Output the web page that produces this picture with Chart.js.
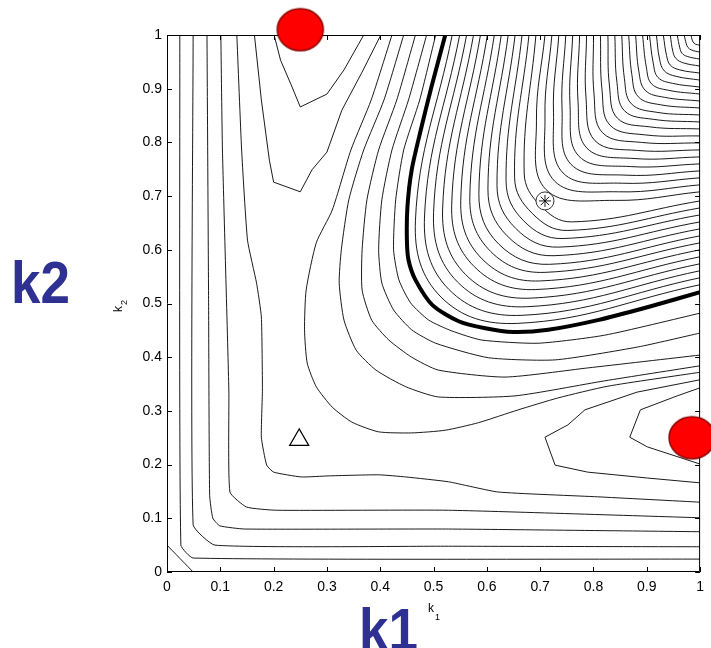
<!DOCTYPE html>
<html>
<head>
<meta charset="utf-8">
<script src="https://cdn.jsdelivr.net/npm/chart.js@4.4.0/dist/chart.umd.min.js"></script>
<style>
html, body { margin: 0; padding: 0; background: #fff; }
#wrap { width: 711px; height: 648px; }
</style>
</head>
<body>
<div id="wrap"><canvas id="contourChart" width="711" height="648"></canvas></div>
<script>
// axis ticks
const tickValues = [0, 0.1, 0.2, 0.3, 0.4, 0.5, 0.6, 0.7, 0.8, 0.9, 1];

// markers (k1, k2)
const redMarks = [[0.25, 1.01], [0.985, 0.25]];
const triangleMark = [0.248, 0.246];
const starMark = [0.709, 0.691];

// thick contour
const boldLine = [[0.522,1.0],[0.496,0.903],[0.476,0.823],[0.459,0.749],[0.451,0.680],[0.450,0.618],[0.453,0.581],[0.466,0.544],[0.498,0.497],[0.547,0.467],[0.597,0.454],[0.649,0.447],[0.715,0.451],[0.808,0.469],[0.901,0.493],[1.0,0.521]];

// fan of contours inside the thick one: top crossing, left arm, corner, lower arm, right crossing
const fanTopK1    = [0.535,0.549,0.562,0.575,0.588,0.601,0.614,0.627,0.640,0.653,0.666,0.679,0.692,0.709,0.722,0.735,0.748,0.761,0.774,0.787,0.800,0.813,0.827,0.840,0.853,0.866,0.879,0.892,0.905,0.918,0.931,0.944,0.957,0.970,0.983];
const fanLeftK1   = [0.466,0.483,0.500,0.517,0.534,0.551,0.568,0.585,0.602,0.619,0.636,0.652,0.670,0.693,0.709,0.725,0.741,0.756,0.771,0.786,0.801,0.816,0.830,0.844,0.858,0.872,0.885,0.899,0.912,0.924,0.937,0.949,0.962,0.974,0.985];
const fanLeftK2   = [0.654,0.661,0.669,0.676,0.683,0.691,0.698,0.705,0.713,0.720,0.728,0.735,0.743,0.840,0.847,0.855,0.862,0.869,0.876,0.883,0.890,0.898,0.905,0.912,0.919,0.926,0.933,0.941,0.948,0.955,0.962,0.969,0.976,0.984,0.991];
const fanCornerK1 = [0.514,0.529,0.545,0.560,0.576,0.591,0.607,0.622,0.638,0.654,0.669,0.685,0.700,0.711,0.727,0.743,0.758,0.773,0.788,0.803,0.817,0.831,0.845,0.858,0.871,0.884,0.897,0.909,0.921,0.933,0.944,0.955,0.966,0.977,0.987];
const fanCornerK2 = [0.512,0.526,0.540,0.554,0.569,0.583,0.597,0.611,0.626,0.640,0.654,0.668,0.683,0.712,0.728,0.743,0.759,0.774,0.789,0.803,0.818,0.832,0.845,0.859,0.872,0.885,0.897,0.909,0.921,0.933,0.944,0.956,0.966,0.977,0.987];
const fanLowK1    = [0.658,0.666,0.675,0.683,0.692,0.700,0.709,0.718,0.726,0.735,0.743,0.752,0.760,0.840,0.847,0.854,0.861,0.869,0.876,0.883,0.890,0.897,0.905,0.912,0.919,0.926,0.933,0.941,0.948,0.955,0.962,0.969,0.976,0.984,0.991];
const fanLowK2    = [0.463,0.478,0.494,0.510,0.526,0.542,0.558,0.573,0.589,0.605,0.621,0.636,0.652,0.692,0.708,0.724,0.739,0.755,0.770,0.785,0.800,0.814,0.829,0.843,0.856,0.870,0.884,0.897,0.910,0.923,0.935,0.948,0.960,0.972,0.983];
const fanRightK2  = [0.535,0.548,0.561,0.574,0.587,0.600,0.613,0.626,0.639,0.652,0.665,0.678,0.691,0.708,0.721,0.734,0.747,0.760,0.773,0.786,0.799,0.812,0.825,0.838,0.851,0.864,0.877,0.890,0.903,0.916,0.929,0.942,0.955,0.968,0.981];

// contours just outside the thick one
const outerLines = [
  [[0.504,1],[0.474,0.879],[0.444,0.786],[0.429,0.693],[0.425,0.600],[0.435,0.544],[0.457,0.501],[0.491,0.469],[0.534,0.449],[0.590,0.432],[0.696,0.426],[0.821,0.441],[1,0.482]],
  [[0.487,1],[0.453,0.879],[0.422,0.786],[0.403,0.693],[0.397,0.600],[0.403,0.538],[0.425,0.488],[0.459,0.451],[0.504,0.426],[0.603,0.399],[0.728,0.395],[0.883,0.419],[1,0.445]],
  [[0.466,1],[0.431,0.879],[0.397,0.786],[0.375,0.693],[0.366,0.600],[0.366,0.525],[0.384,0.469],[0.416,0.432],[0.459,0.400],[0.509,0.376],[0.634,0.363],[0.789,0.380],[1,0.404]],
  [[0.444,1],[0.407,0.879],[0.369,0.786],[0.341,0.693],[0.327,0.600],[0.323,0.538],[0.332,0.469],[0.355,0.413],[0.392,0.376],[0.448,0.345],[0.509,0.326],[0.653,0.328],[0.821,0.356],[1,0.384]],
  [[0.422,1],[0.383,0.879],[0.345,0.786],[0.310,0.674],[0.280,0.613],[0.261,0.525],[0.258,0.451],[0.263,0.389],[0.280,0.345],[0.310,0.307],[0.347,0.279],[0.397,0.261],[0.459,0.259],[0.522,0.264],[0.584,0.278],[0.659,0.302],[0.733,0.324],[0.827,0.346],[1,0.372]]
];

// contours along the left and bottom
const cornerLines = [
  [[0,0.050],[0.049,0]],
  [[0.024,1],[0.026,0.050],[0.049,0.026],[1,0.024]],
  [[0.049,1],[0.049,0.088],[0.090,0.050],[0.528,0.048],[1,0.047]],
  [[0.075,1],[0.078,0.507],[0.080,0.143],[0.086,0.100],[0.099,0.086],[0.146,0.080],[0.528,0.080],[1,0.075]],
  [[0.101,1],[0.104,0.786],[0.116,0.339],[0.118,0.149],[0.149,0.121],[0.205,0.115],[0.528,0.115],[1,0.101]],
  [[0.131,1],[0.140,0.786],[0.151,0.618],[0.168,0.538],[0.177,0.475],[0.179,0.339],[0.177,0.251],[0.187,0.199],[0.200,0.186],[0.252,0.177],[0.304,0.179],[0.397,0.181],[0.448,0.177],[0.528,0.168],[0.621,0.149],[0.808,0.140],[1,0.130]]
];

// V shaped contours near the two red markers
const vLines = [
  [[0.201,1],[0.213,0.953],[0.233,0.907],[0.250,0.866],[0.300,0.890],[0.332,0.935],[0.369,1]],
  [[0.164,1],[0.177,0.879],[0.192,0.767],[0.200,0.726],[0.250,0.708],[0.272,0.749],[0.300,0.782],[0.328,0.860],[0.366,0.931],[0.401,1]],
  [[1,0.358],[0.882,0.335],[0.784,0.302],[0.752,0.274],[0.709,0.251],[0.728,0.199],[0.789,0.186],[0.901,0.175],[1,0.166]],
  [[1,0.343],[0.957,0.328],[0.888,0.302],[0.868,0.251],[0.901,0.233],[1,0.201]]
];

function toPoints(list) {
    return list.map(p => ({x: p[0], y: p[1]}));
}

let datasets = [];

function addLine(list, width, tension) {
    datasets.push({
        data: toPoints(list),
        showLine: true,
        borderColor: '#000',
        borderWidth: width,
        pointRadius: 0,
        tension: tension,
        order: 5
    });
}

cornerLines.forEach(l => addLine(l, 0.9, 0.15));
vLines.forEach(l => addLine(l, 0.9, 0));
outerLines.forEach(l => addLine(l, 0.9, 0.2));
for (let i = 0; i < fanTopK1.length; i++) {
    addLine([
        [fanTopK1[i], 1],
        [fanLeftK1[i], fanLeftK2[i]],
        [fanCornerK1[i], fanCornerK2[i]],
        [fanLowK1[i], fanLowK2[i]],
        [1, fanRightK2[i]]
    ], 0.9, 0.4);
}
addLine(boldLine, 4, 0.25);

// red ellipse marker
let redDot = document.createElement('canvas');
redDot.width = 50;
redDot.height = 46;
let rc = redDot.getContext('2d');
rc.beginPath();
rc.ellipse(25, 23, 23, 21, 0, 0, Math.PI * 2);
rc.fillStyle = '#ff0000';
rc.fill();
rc.lineWidth = 1.5;
rc.strokeStyle = '#8a0000';
rc.stroke();

datasets.push({
    data: toPoints(redMarks),
    pointStyle: redDot,
    pointRadius: 22,
    clip: false,
    order: 0
});
datasets.push({
    data: toPoints([triangleMark]),
    pointStyle: 'triangle',
    pointRadius: 11,
    backgroundColor: '#fff',
    borderColor: '#000',
    borderWidth: 1.2,
    order: 0
});
datasets.push({
    data: toPoints([starMark]),
    pointStyle: 'star',
    pointRadius: 6,
    borderColor: '#000',
    borderWidth: 0.9,
    order: 0
});
datasets.push({
    data: toPoints([starMark]),
    pointStyle: 'circle',
    pointRadius: 9,
    backgroundColor: '#fff',
    borderColor: '#000',
    borderWidth: 0.8,
    order: 1
});

const framePlugin = {
    id: 'frame',
    beforeDatasetsDraw(chart) {
        const {ctx, chartArea: a, scales: {x, y}} = chart;
        ctx.save();
        ctx.strokeStyle = '#000';
        ctx.lineWidth = 1;
        ctx.beginPath();
        ctx.rect(a.left + 0.5, a.top + 0.5, a.right - a.left - 1, a.bottom - a.top - 1);
        tickValues.forEach(v => {
            let px = Math.round(x.getPixelForValue(v)) + 0.5;
            ctx.moveTo(px, a.bottom);
            ctx.lineTo(px, a.bottom - 5);
            ctx.moveTo(px, a.top);
            ctx.lineTo(px, a.top + 5);
            let py = Math.round(y.getPixelForValue(v)) + 0.5;
            ctx.moveTo(a.left, py);
            ctx.lineTo(a.left + 5, py);
            ctx.moveTo(a.right, py);
            ctx.lineTo(a.right - 5, py);
        });
        ctx.stroke();
        ctx.restore();
    },
    afterDraw(chart) {
        const ctx = chart.ctx;
        ctx.save();
        ctx.fillStyle = '#000';
        ctx.textBaseline = 'alphabetic';
        ctx.font = '12px "Liberation Sans", Arial, sans-serif';
        ctx.fillText('k', 428, 612);
        ctx.font = '9px "Liberation Sans", Arial, sans-serif';
        ctx.fillText('1', 435, 620);

        ctx.save();
        ctx.translate(122, 312);
        ctx.rotate(-Math.PI / 2);
        ctx.font = '12px "Liberation Sans", Arial, sans-serif';
        ctx.fillText('k', 0, 0);
        ctx.font = '9px "Liberation Sans", Arial, sans-serif';
        ctx.fillText('2', 7, 5);
        ctx.restore();

        ctx.fillStyle = '#2e3192';
        ctx.font = 'bold 53px "Liberation Sans", Arial, sans-serif';
        ctx.save();
        ctx.translate(11, 303);
        ctx.scale(1, 1.12);
        ctx.fillText('k2', 0, 0);
        ctx.restore();
        ctx.save();
        ctx.translate(359, 650);
        ctx.scale(1, 1.12);
        ctx.fillText('k1', 0, 0);
        ctx.restore();
        ctx.restore();
    }
};

function tickLabel(v) {
    return String(Math.round(v * 10) / 10);
}

new Chart(document.getElementById('contourChart'), {
    type: 'scatter',
    data: {datasets: datasets},
    plugins: [framePlugin],
    options: {
        responsive: false,
        devicePixelRatio: 1,
        animation: false,
        events: [],
        layout: {autoPadding: false, padding: {left: 0, right: 8, top: 35, bottom: 0}},
        plugins: {
            legend: {display: false},
            tooltip: {enabled: false}
        },
        scales: {
            x: {
                type: 'linear',
                min: 0,
                max: 1,
                grid: {display: false, drawTicks: false},
                border: {display: false},
                ticks: {
                    stepSize: 0.1,
                    padding: 7,
                    color: '#000',
                    maxRotation: 0,
                    font: {family: '"Liberation Sans", Arial, sans-serif', size: 14},
                    callback: tickLabel
                },
                afterFit(scale) { scale.height = 76; }
            },
            y: {
                type: 'linear',
                min: 0,
                max: 1,
                grid: {display: false, drawTicks: false},
                border: {display: false},
                ticks: {
                    stepSize: 0.1,
                    padding: 5,
                    color: '#000',
                    font: {family: '"Liberation Sans", Arial, sans-serif', size: 14},
                    callback: tickLabel
                },
                afterFit(scale) { scale.width = 167; }
            }
        }
    }
});
</script>
</body>
</html>
